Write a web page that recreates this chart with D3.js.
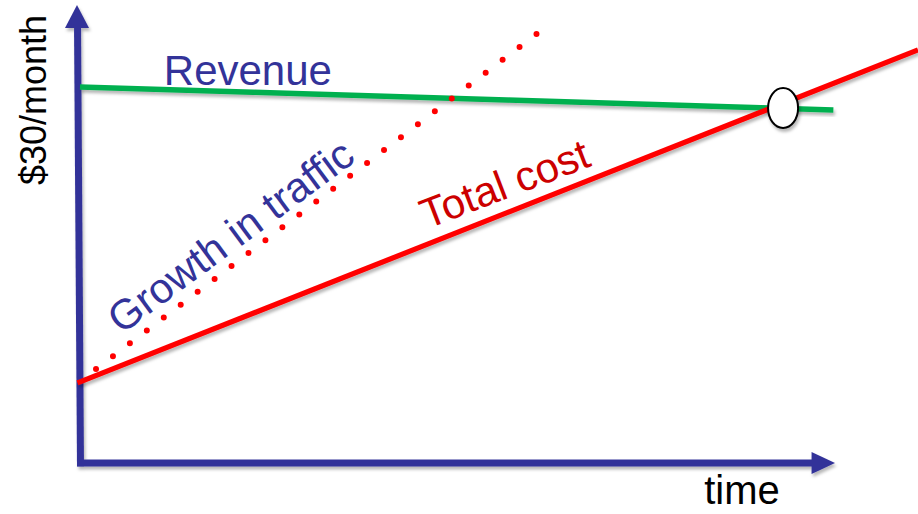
<!DOCTYPE html>
<html><head><meta charset="utf-8">
<script src="https://cdn.jsdelivr.net/npm/d3@7"></script>
<style>html,body{margin:0;padding:0;background:#fff;overflow:hidden}</style>
</head><body>
<svg id="chart" width="918" height="514"></svg>
<script>
// ---- data (time units 0..100, value units 0..100) ----
const revenue = [{t: 0, v: 82.1}, {t: 89.9, v: 77.1}];
const totalCost = [{t: -0.3, v: 17.5}, {t: 100, v: 90.2}];
const trafficGrowth = [{t: 1.91, v: 20.5}, {t: 54.5, v: 93.7}];
const breakEven = [{t: 83.9, v: 77.5}];
const trafficDots = 26;
const labels = ["Revenue", "Growth in traffic", "Total cost"];
const axisLabels = ["$30/month", "time"];

const W = 918, H = 514;
const svg = d3.select("#chart");
const x = d3.scaleLinear().domain([0, 100]).range([80, 918]);
const y = d3.scaleLinear().domain([0, 100]).range([463, 5]);

const defs = svg.append("defs");
const f = defs.append("filter").attr("id", "sh").attr("x", "-10%").attr("y", "-10%").attr("width", "130%").attr("height", "140%");
f.append("feDropShadow").attr("dx", 1.5).attr("dy", 3).attr("stdDeviation", 1.6)
  .attr("flood-color", "#000").attr("flood-opacity", 0.28);

const line = d3.line().x(d => x(d.t)).y(d => y(d.v));
const axisColor = "#333399";

// axes (arrows)
const g = svg.append("g").attr("filter", "url(#sh)");
g.append("path").attr("d", d3.line()([[80.5, y(-0.7)], [77.5, y(96)]]))
  .attr("stroke", axisColor).attr("stroke-width", 7).attr("fill", "none");
g.append("path").attr("d", d3.line()([[77, y(0)], [x(87.5), y(0)]]))
  .attr("stroke", axisColor).attr("stroke-width", 7).attr("fill", "none");
g.append("path").attr("d", d3.line()([[77, y(100)], [65, y(95)], [89, y(95)]]) + "Z").attr("fill", axisColor);
g.append("path").attr("d", d3.line()([[x(90.1), y(0)], [x(87.3), y(0) - 11], [x(87.3), y(0) + 11]]) + "Z").attr("fill", axisColor);

// revenue
svg.append("path").datum(revenue).attr("d", line).attr("stroke", "#00b050")
  .attr("stroke-width", 5.5).attr("fill", "none").attr("filter", "url(#sh)");

// traffic growth dotted
const tp = svg.append("path").datum(trafficGrowth).attr("d", line).attr("stroke", "#ff0000")
  .attr("stroke-width", 6).attr("stroke-linecap", "round").attr("fill", "none");
const len = tp.node().getTotalLength();
tp.attr("stroke-dasharray", `0 ${len / trafficDots * 0.9995}`);

// total cost
svg.append("path").datum(totalCost).attr("d", line).attr("stroke", "#ff0000")
  .attr("stroke-width", 5.2).attr("fill", "none").attr("filter", "url(#sh)");

// break-even marker
svg.selectAll("ellipse.be").data(breakEven).join("ellipse").attr("class", "be")
  .attr("cx", d => x(d.t)).attr("cy", d => y(d.v)).attr("rx", 15).attr("ry", 20)
  .attr("fill", "#fff").attr("stroke", "#000").attr("stroke-width", 2).attr("filter", "url(#sh)");

const font = "Liberation Sans, Arial, Helvetica, sans-serif";
svg.append("text").attr("x", x(10.0)).attr("y", y(82.5)).text(labels[0])
  .attr("font-family", font).attr("font-size", 42).attr("fill", axisColor);
svg.append("text").attr("transform", `translate(${x(19.0)},${y(47.0)}) rotate(-36.5)`)
  .attr("text-anchor", "middle").text(labels[1])
  .attr("font-family", font).attr("font-size", 42).attr("fill", axisColor);
svg.append("text").attr("transform", `translate(${x(51.3)},${y(58.0)}) rotate(-21)`)
  .attr("text-anchor", "middle").text(labels[2])
  .attr("font-family", font).attr("font-size", 42).attr("fill", "#cc0000");
svg.append("text").attr("transform", `translate(46,100) rotate(-90)`)
  .attr("text-anchor", "middle").text(axisLabels[0])
  .attr("font-family", font).attr("font-size", 36).attr("fill", "#000");
svg.append("text").attr("x", 742).attr("y", 504).attr("text-anchor", "middle").text(axisLabels[1])
  .attr("font-family", font).attr("font-size", 40).attr("fill", "#000");
</script>
</body></html>
